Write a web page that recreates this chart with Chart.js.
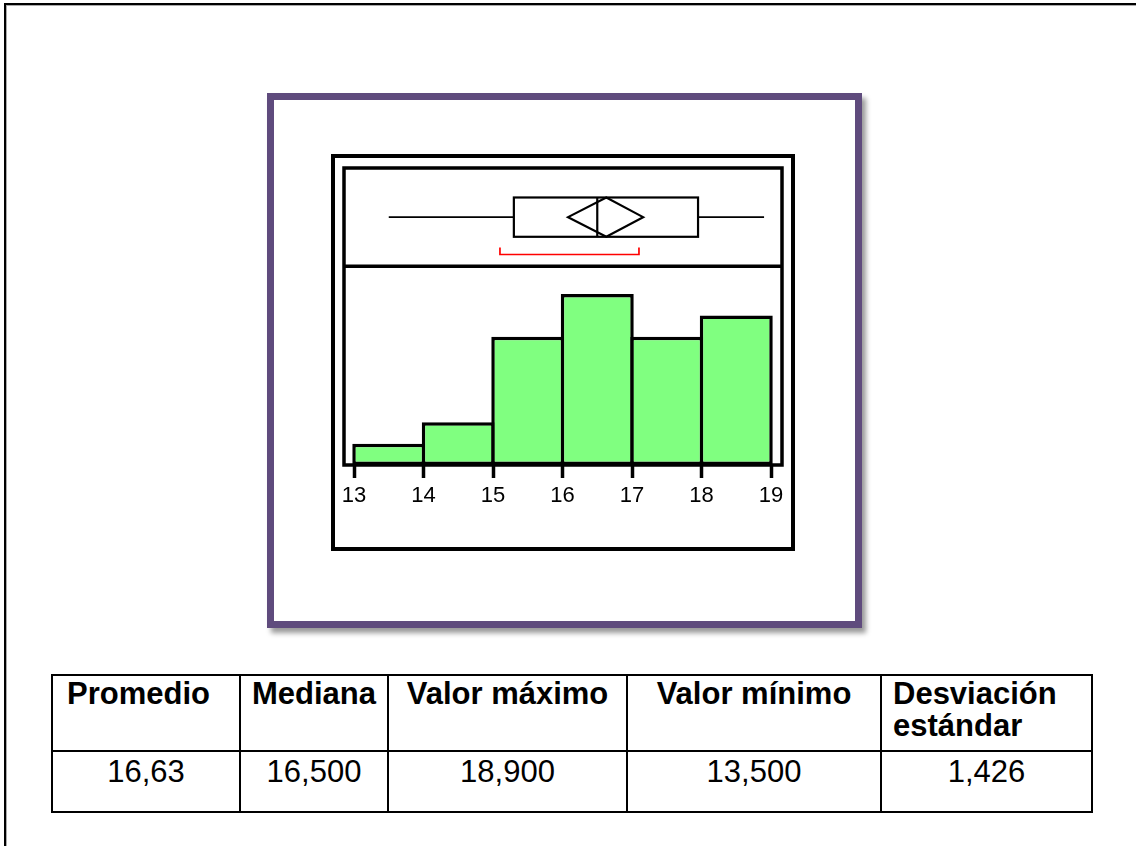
<!DOCTYPE html>
<html>
<head>
<meta charset="utf-8">
<script src="https://cdn.jsdelivr.net/npm/chart.js@4.4.1/dist/chart.umd.min.js"></script>
<style>
    body {
        margin: 0;
        background: #fff;
        width: 1136px;
        height: 846px;
        overflow: hidden;
        position: relative;
        font-family: Arial, "Liberation Sans", sans-serif;
    }
    #page {
        position: absolute;
        left: 4px;
        top: 3px;
        width: 1200px;
        height: 900px;
        border-top: 2px solid #000;
        border-left: 2px solid #000;
        box-shadow: inset 1px 1px 0 #aaa;
    }
    #frame {
        position: absolute;
        left: 267px;
        top: 93px;
        width: 595px;
        height: 535px;
        box-sizing: border-box;
        border: 7px solid #5f4b7d;
        box-shadow: 4px 5px 5px rgba(0, 0, 0, 0.4);
        background: #fff;
    }
    #chartBox {
        position: absolute;
        left: 331px;
        top: 154px;
        width: 464px;
        height: 397px;
        box-sizing: border-box;
        border: 4px solid #000;
        background: #fff;
    }
    #chartBox canvas {
        position: absolute;
        left: 0;
        top: 0;
    }
    #stats {
        position: absolute;
        left: 51px;
        top: 674px;
        border-collapse: collapse;
        table-layout: fixed;
    }
    #stats td {
        border: 2px solid #000;
        font-size: 31px;
        line-height: 32px;
        vertical-align: top;
        text-align: center;
        padding: 0;
        color: #000;
    }
    #stats tr.head td {
        font-weight: bold;
        height: 72px;
        padding-top: 2px;
    }
    #stats tr.vals td {
        height: 55px;
        padding-top: 4px;
    }
    #stats td.left {
        text-align: left;
        padding-left: 14px;
    }
    #stats td.last {
        text-align: left;
        padding-left: 11px;
    }
</style>
</head>
<body>
<div id="page"></div>
<div id="frame"></div>
<div id="chartBox"><canvas id="histChart" width="456" height="389"></canvas></div>
<table id="stats">
    <colgroup>
        <col style="width:188px"><col style="width:148px"><col style="width:239px"><col style="width:254px"><col style="width:211px">
    </colgroup>
    <tbody></tbody>
</table>

<script>
// histogram bins (lower edge) and counts
const binStarts = [13, 14, 15, 16, 17, 18];
const binCounts = [1, 2, 6, 8, 6, 7];
const xTicks = [13, 14, 15, 16, 17, 18, 19];

// box plot: min, q1, median, q3, max
const boxFive = [13.5, 15.3, 16.5, 17.95, 18.9];
// mean diamond: lower CI, mean, upper CI
const meanDiamond = [16.08, 16.63, 17.16];
// red bracket (shortest half)
const shortHalf = [15.1, 17.1];

const tableHeaders = ["Promedio", "Mediana", "Valor máximo", "Valor mínimo", "Desviación estándar"];
const tableValues = ["16,63", "16,500", "18,900", "13,500", "1,426"];

const histTop = 9.3; // top of histogram panel in count units
const yMax = 13.9;

document.addEventListener("DOMContentLoaded", function () {
    // table
    const tbody = document.querySelector("#stats tbody");
    const headRow = document.createElement("tr");
    headRow.className = "head";
    tableHeaders.forEach((h, i) => {
        const td = document.createElement("td");
        td.textContent = h;
        if (i === 0) td.className = "left";
        if (i === tableHeaders.length - 1) td.className = "last";
        headRow.appendChild(td);
    });
    tbody.appendChild(headRow);
    const valRow = document.createElement("tr");
    valRow.className = "vals";
    tableValues.forEach((v) => {
        const td = document.createElement("td");
        td.textContent = v;
        valRow.appendChild(td);
    });
    tbody.appendChild(valRow);

    const panelPlugin = {
        id: "panel",
        afterDatasetsDraw(chart) {
            const { ctx, chartArea: a, scales } = chart;
            const x = scales.x;
            const y = scales.y;
            const splitY = y.getPixelForValue(histTop);
            const h = splitY - a.top;
            const midY = a.top + h * 0.5;
            const half = h * 0.2;
            const px = (v) => x.getPixelForValue(v);

            ctx.save();
            ctx.strokeStyle = "#000";

            // whiskers
            ctx.lineWidth = 1.8;
            ctx.beginPath();
            ctx.moveTo(px(boxFive[0]), midY);
            ctx.lineTo(px(boxFive[1]), midY);
            ctx.moveTo(px(boxFive[3]), midY);
            ctx.lineTo(px(boxFive[4]), midY);
            ctx.stroke();

            // box + median
            ctx.lineWidth = 2.2;
            ctx.strokeRect(px(boxFive[1]), midY - half, px(boxFive[3]) - px(boxFive[1]), half * 2);
            ctx.beginPath();
            ctx.moveTo(px(boxFive[2]), midY - half);
            ctx.lineTo(px(boxFive[2]), midY + half);
            ctx.stroke();

            // mean diamond
            ctx.beginPath();
            ctx.moveTo(px(meanDiamond[0]), midY);
            ctx.lineTo(px(meanDiamond[1]), midY - half);
            ctx.lineTo(px(meanDiamond[2]), midY);
            ctx.lineTo(px(meanDiamond[1]), midY + half);
            ctx.closePath();
            ctx.stroke();

            // red bracket
            const by = a.top + h * 0.88;
            ctx.strokeStyle = "#ff0000";
            ctx.lineWidth = 1.7;
            ctx.beginPath();
            ctx.moveTo(px(shortHalf[0]), by - 7);
            ctx.lineTo(px(shortHalf[0]), by);
            ctx.lineTo(px(shortHalf[1]), by);
            ctx.lineTo(px(shortHalf[1]), by - 7);
            ctx.stroke();

            // panel frame and separator
            ctx.strokeStyle = "#000";
            ctx.lineWidth = 3.5;
            ctx.strokeRect(a.left, a.top, a.right - a.left, a.bottom - a.top);
            ctx.beginPath();
            ctx.moveTo(a.left, splitY);
            ctx.lineTo(a.right, splitY);
            ctx.stroke();
            ctx.restore();
        },
    };

    const ctx = document.getElementById("histChart").getContext("2d");
    const barData = binStarts.map((b, i) => ({ x: b + 0.5, y: binCounts[i] }));

    new Chart(ctx, {
        type: "bar",
        data: {
            datasets: [
                {
                    data: barData,
                    backgroundColor: "#80ff80",
                    borderColor: "#000",
                    borderWidth: 3.5,
                    borderSkipped: false,
                    barPercentage: 1.05,
                    categoryPercentage: 1,
                },
            ],
        },
        options: {
            responsive: false,
            animation: false,
            devicePixelRatio: 1,
            layout: { padding: { left: 9, right: 9, top: 10, bottom: 0 } },
            plugins: {
                legend: { display: false },
                tooltip: { enabled: false },
            },
            scales: {
                x: {
                    type: "linear",
                    min: 12.856,
                    max: 19.158,
                    offset: false,
                    afterBuildTicks: (scale) => {
                        scale.ticks = xTicks.map((v) => ({ value: v }));
                    },
                    afterFit: (scale) => {
                        scale.height = 82;
                    },
                    grid: {
                        offset: false,
                        drawOnChartArea: false,
                        drawTicks: true,
                        tickLength: 13,
                        tickWidth: 3.5,
                        tickColor: "#000",
                    },
                    border: { display: false },
                    ticks: {
                        color: "#000",
                        padding: 5,
                        maxRotation: 0,
                        font: { family: "Arial, 'Liberation Sans'", size: 22 },
                    },
                },
                y: {
                    display: false,
                    min: 0,
                    max: yMax,
                },
            },
        },
        plugins: [panelPlugin],
    });
});
</script>
</body>
</html>
